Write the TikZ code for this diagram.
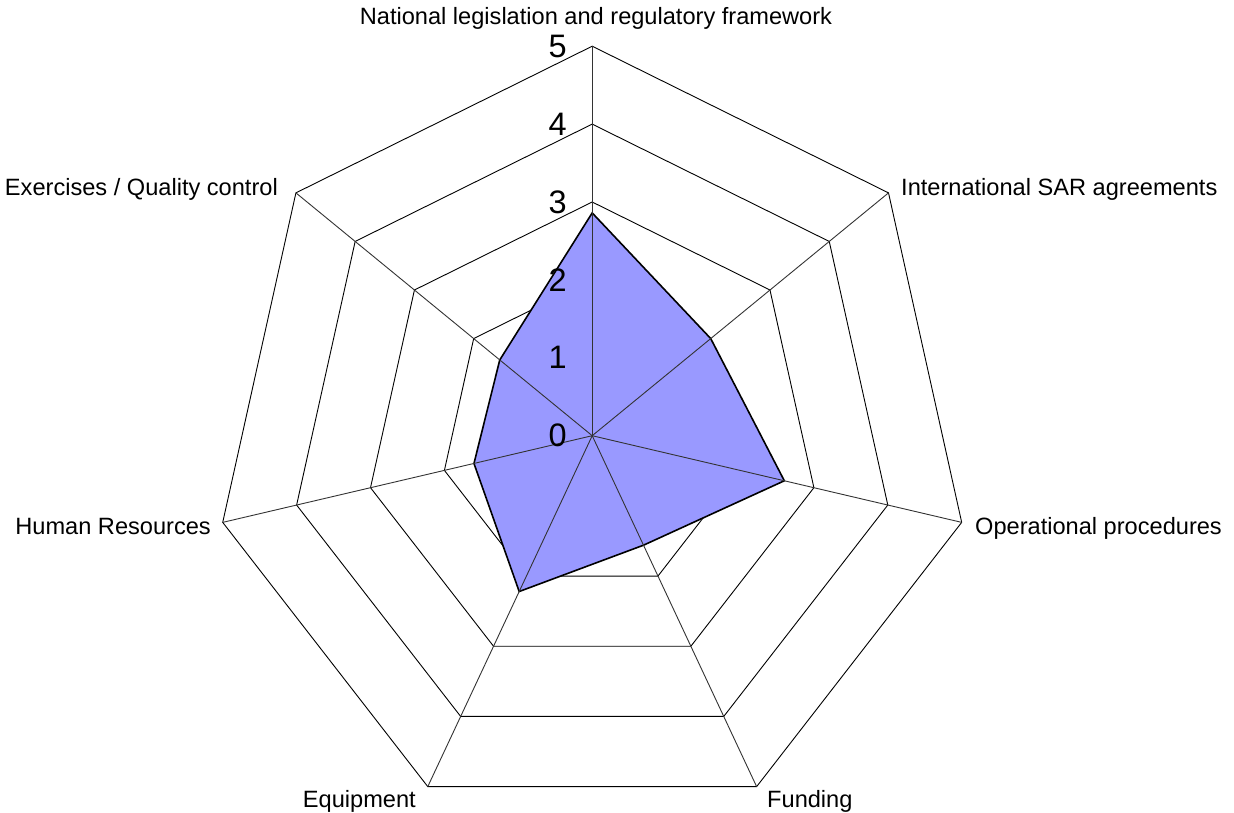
\documentclass[tikz,border=0pt]{standalone}
\usepackage{fontspec}
\setmainfont{Liberation Sans}
\definecolor{dataBlue}{HTML}{9999FF}
\begin{document}
\begin{tikzpicture}[x=1pt,y=-1pt,
  grid/.style={black, line width=0.9pt},
  spoke/.style={black!80, line width=0.9pt},
  datafill/.style={fill=dataBlue, draw=black, line width=1.6pt, line join=miter},
  axlabel/.style={font=\fontsize{23.6}{28}\selectfont, inner sep=0pt},
  numlabel/.style={font=\fontsize{32.5}{38}\selectfont, inner sep=0pt, anchor=east}]
\useasboundingbox (0,0) rectangle (1234,812);
\def\cx{592.2}\def\cy{435.7}\def\ux{75.8}\def\uy{77.9}
\coordinate (c) at (\cx,\cy);
% ring vertices
\foreach \r in {1,...,5}{
  \foreach \k in {0,...,6}{
    \coordinate (v\r-\k) at ({\cx+\r*\ux*sin(\k*360/7)},{\cy-\r*\uy*cos(\k*360/7)});
  }
}
% rings
\foreach \r in {1,...,5}{
  \draw[grid] (v\r-0) -- (v\r-1) -- (v\r-2) -- (v\r-3) -- (v\r-4) -- (v\r-5) -- (v\r-6) -- cycle;
}
% data
\foreach \v [count=\i from 0] in {2.86,2,2.6,1.56,2.22,1.6,1.56}{
  \coordinate (d\i) at ({\cx+\v*\ux*sin(\i*360/7)},{\cy-\v*\uy*cos(\i*360/7)});
}
\draw[datafill] (d0) -- (d1) -- (d2) -- (d3) -- (d4) -- (d5) -- (d6) -- cycle;
% spokes
\foreach \k in {0,...,6}{
  \draw[spoke] (c) -- (v5-\k);
}
% scale numbers
\foreach \r in {0,...,5}{
  \node[numlabel] (n\r) at (567,{\cy-\r*\uy}) {\r};
}
% axis labels
\node[axlabel, anchor=base] (lab0) at (596,24) {National legislation and regulatory framework};
\node[axlabel, anchor=base west] (lab1) at (901,195) {International SAR agreements};
\node[axlabel, anchor=base west] (lab2) at (975,534) {Operational procedures};
\node[axlabel, anchor=base west] (lab3) at (767,807) {Funding};
\node[axlabel, anchor=base east] (lab4) at (416,807) {Equipment};
\node[axlabel, anchor=base east] (lab5) at (211,534) {Human Resources};
\node[axlabel, anchor=base east] (lab6) at (278,195) {Exercises / Quality control};
\end{tikzpicture}
\end{document}
